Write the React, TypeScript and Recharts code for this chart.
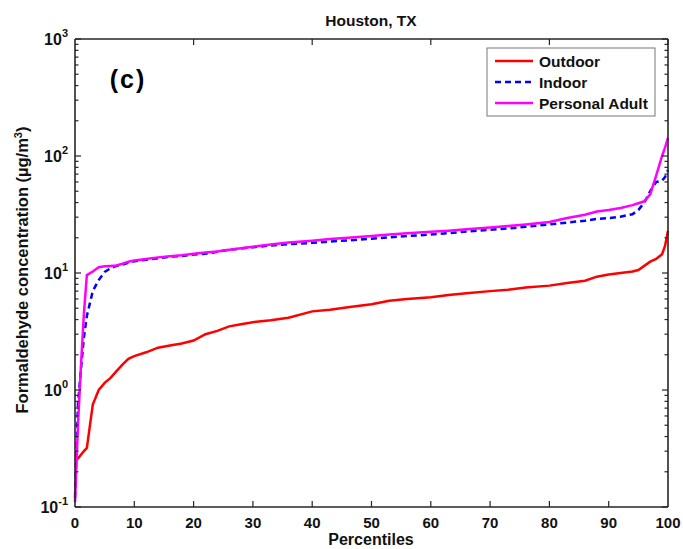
import React from 'react';
import { LineChart, Line, XAxis, YAxis } from 'recharts';

const percentiles = [0, 0.5, 1, 1.5, 2, 3, 4, 5, 6, 7, 8, 9, 10, 12, 14, 16, 18, 20, 22, 24, 26, 28, 30, 33, 36, 40, 43, 46, 50, 53, 56, 60, 63, 66, 70, 73, 76, 80, 83, 86, 88, 90, 92, 94, 95, 96, 97, 98, 99, 99.5, 100];
const outdoor = [0.25, 0.26, 0.28, 0.3, 0.32, 0.75, 1.0, 1.15, 1.27, 1.45, 1.65, 1.85, 1.95, 2.1, 2.3, 2.4, 2.5, 2.65, 3.0, 3.2, 3.5, 3.65, 3.8, 3.95, 4.15, 4.7, 4.85, 5.1, 5.4, 5.8, 6.0, 6.2, 6.5, 6.7, 7.0, 7.2, 7.5, 7.8, 8.2, 8.6, 9.3, 9.7, 10.0, 10.3, 10.6, 11.5, 12.5, 13.2, 14.5, 17, 23];
const indoor = [0.12, 0.75, 1.5, 2.8, 4.3, 7.0, 8.7, 10.2, 11.0, 11.5, 11.8, 12.2, 12.6, 13.0, 13.4, 13.8, 14.0, 14.4, 14.6, 15.2, 15.8, 16.2, 16.6, 17.2, 17.6, 18.1, 18.6, 19.0, 19.6, 20.2, 20.7, 21.3, 21.9, 22.6, 23.4, 24.0, 24.8, 26.0, 27.0, 28.0, 29.0, 29.5, 30.3, 31.8, 34.5, 40, 50, 60, 61.5, 66, 76];
const personalAdult = [0.11, 0.5, 1.6, 4.5, 9.6, 10.3, 11.2, 11.4, 11.5, 11.6, 12.0, 12.5, 12.8, 13.2, 13.6, 13.9, 14.2, 14.6, 15.0, 15.3, 15.8, 16.3, 16.8, 17.5, 18.2, 18.9, 19.5, 20.0, 20.7, 21.3, 21.9, 22.5, 23.0, 23.6, 24.5, 25.2, 26.0, 27.3, 29.5, 31.5, 33.5, 34.5, 36, 38, 39.5, 41, 47, 68, 100, 118, 143];

const xTicks = [0, 10, 20, 30, 40, 50, 60, 70, 80, 90, 100];
const yDecades = [0.1, 1, 10, 100, 1000];
const minorMultipliers = [1, 2, 3, 4, 5, 6, 7, 8, 9];
const seriesNames = ['Outdoor', 'Indoor', 'Personal Adult'];
const seriesColors = ['#ff0000', '#0000ff', '#ff00ff'];
const chartTitle = 'Houston, TX';
const panelLabel = '(c)';
const xLabel = 'Percentiles';
const yLabel = 'Formaldehyde concentration (µg/m';

const data = percentiles.map((p, i) => ({
  p,
  outdoor: outdoor[i],
  indoor: indoor[i],
  personal: personalAdult[i],
}));

const yTicks: number[] = [];
yDecades.forEach((d, i) => {
  if (i < yDecades.length - 1) {
    minorMultipliers.forEach((m) => yTicks.push(Number((d * m).toPrecision(3))));
  } else {
    yTicks.push(d);
  }
});

const FONT = '"Liberation Sans", Arial, Helvetica, sans-serif';
const AXIS = '#262626';

const isDecade = (v: number) => Math.abs(Math.log10(v) - Math.round(Math.log10(v))) < 1e-6;

const LeftTick = (props: any) => {
  const { x, y, payload } = props;
  const v = payload.value;
  const major = isDecade(v);
  const exp = Math.round(Math.log10(v));
  return (
    <g>
      <line x1={x} x2={x + (major ? 6 : 3.5)} y1={y} y2={y} stroke={AXIS} strokeWidth={1.2} />
      {major && (
        <text x={x - 7} y={y + 6} textAnchor="end" fontFamily={FONT} fontWeight="bold" fontSize={16} fill="#111">
          10
          <tspan dy={-8} fontSize={11}>{exp}</tspan>
        </text>
      )}
    </g>
  );
};

const RightTick = (props: any) => {
  const { x, y, payload } = props;
  const major = isDecade(payload.value);
  return <line x1={x} x2={x - (major ? 6 : 3.5)} y1={y} y2={y} stroke={AXIS} strokeWidth={1.2} />;
};

const BottomTick = (props: any) => {
  const { x, y, payload } = props;
  const v = payload.value;
  return (
    <g>
      {v > 0 && v < 100 && <line x1={x} x2={x} y1={y} y2={y - 6} stroke={AXIS} strokeWidth={1.2} />}
      <text x={x} y={y + 21} textAnchor="middle" fontFamily={FONT} fontWeight="bold" fontSize={15} fill="#111">
        {v}
      </text>
    </g>
  );
};

const TopTick = (props: any) => {
  const { x, y, payload } = props;
  const v = payload.value;
  if (v <= 0 || v >= 100) return <g />;
  return <line x1={x} x2={x} y1={y} y2={y + 6} stroke={AXIS} strokeWidth={1.2} />;
};

export default function App() {
  const W = 683;
  const H = 549;
  return (
    <div style={{ position: 'fixed', left: 0, top: 0, width: W, height: H, overflow: 'hidden', background: '#fff' }}>
      <LineChart width={W} height={H} data={data} margin={{ top: 38, right: 14, bottom: 12, left: 25 }}>
        <XAxis
          xAxisId="b"
          dataKey="p"
          type="number"
          domain={[0, 100]}
          ticks={xTicks}
          interval={0}
          height={30}
          tickSize={0}
          tickMargin={0}
          tickLine={false}
          axisLine={{ stroke: AXIS, strokeWidth: 1.6 }}
          tick={<BottomTick />}
        />
        <XAxis
          xAxisId="t"
          orientation="top"
          type="number"
          domain={[0, 100]}
          ticks={xTicks}
          interval={0}
          height={1}
          tickSize={0}
          tickMargin={0}
          tickLine={false}
          axisLine={{ stroke: AXIS, strokeWidth: 1.6 }}
          tick={<TopTick />}
        />
        <YAxis
          yAxisId="l"
          scale="log"
          domain={[0.1, 1000]}
          allowDataOverflow
          ticks={yTicks}
          interval={0}
          width={50}
          tickSize={0}
          tickMargin={0}
          tickLine={false}
          axisLine={{ stroke: AXIS, strokeWidth: 1.6 }}
          tick={<LeftTick />}
        />
        <YAxis
          yAxisId="r"
          orientation="right"
          scale="log"
          domain={[0.1, 1000]}
          allowDataOverflow
          ticks={yTicks}
          interval={0}
          width={1}
          tickSize={0}
          tickMargin={0}
          tickLine={false}
          axisLine={{ stroke: AXIS, strokeWidth: 1.6 }}
          tick={<RightTick />}
        />
        <Line xAxisId="b" yAxisId="l" type="linear" dataKey="outdoor" stroke={seriesColors[0]} strokeWidth={2.5} dot={false} isAnimationActive={false} />
        <Line xAxisId="b" yAxisId="l" type="linear" dataKey="indoor" stroke={seriesColors[1]} strokeWidth={2.5} strokeDasharray="6 4" dot={false} isAnimationActive={false} />
        <Line xAxisId="b" yAxisId="l" type="linear" dataKey="personal" stroke={seriesColors[2]} strokeWidth={2.5} dot={false} isAnimationActive={false} />
      </LineChart>
      <svg width={W} height={H} style={{ position: 'absolute', left: 0, top: 0, pointerEvents: 'none' }}>
        <text x={371} y={26} textAnchor="middle" fontFamily={FONT} fontWeight="bold" fontSize={15.5} fill="#111">
          {chartTitle}
        </text>
        <text x={128} y={88} textAnchor="middle" fontFamily={FONT} fontWeight="bold" fontSize={25} letterSpacing={2} fill="#000">
          {panelLabel}
        </text>
        <text x={371} y={545} textAnchor="middle" fontFamily={FONT} fontWeight="bold" fontSize={16} fill="#111">
          {xLabel}
        </text>
        <text x={28} y={270} textAnchor="middle" transform="rotate(-90, 28, 270)" fontFamily={FONT} fontWeight="bold" fontSize={16.5} fill="#111">
          {yLabel}
          <tspan dy={-6} fontSize={11}>3</tspan>
          <tspan dy={6}>)</tspan>
        </text>
        <rect x={487} y={48} width={168} height={68} fill="#fff" stroke="#777" strokeWidth={1} />
        {seriesNames.map((name, i) => (
          <g key={name}>
            <line
              x1={495}
              x2={533}
              y1={61 + i * 21}
              y2={61 + i * 21}
              stroke={seriesColors[i]}
              strokeWidth={2.5}
              strokeDasharray={i === 1 ? '6 4' : undefined}
            />
            <text x={539} y={61 + i * 21 + 5.5} fontFamily={FONT} fontWeight="bold" fontSize={15.5} fill="#111">
              {name}
            </text>
          </g>
        ))}
      </svg>
    </div>
  );
}
